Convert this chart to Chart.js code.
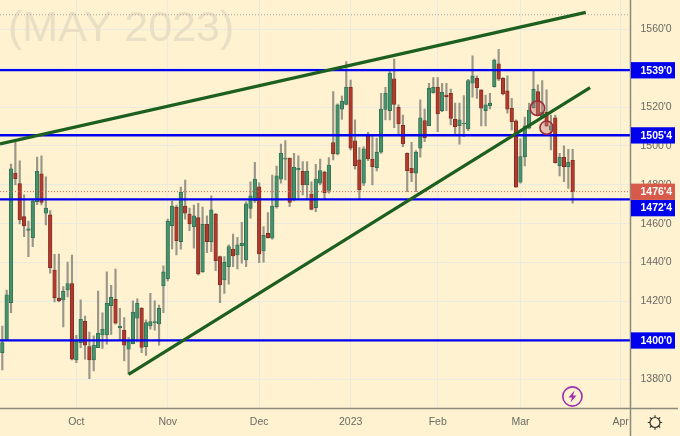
<!DOCTYPE html>
<html>
<head>
<meta charset="utf-8">
<script src="https://cdn.jsdelivr.net/npm/chart.js@4"></script>
<style>
    html, body { margin: 0; padding: 0; background: #fef2d0; }
    canvas { display: block; }
</style>
</head>
<body>
<canvas id="chart" width="680" height="436"></canvas>
<script>
let opens = [1393.7,1400.5,1419.4,1486.1,1480.6,1463.6,1456.5,1452.8,1471.3,1485.6,1465.4,1464.5,1436.2,1421.7,1420.8,1425.9,1429.2,1389.9,1398.8,1409.8,1396.8,1389.9,1396.2,1402.8,1402.8,1417.8,1421.1,1406.5,1405.2,1395.4,1398.3,1411.4,1416.5,1396.8,1407.4,1408.9,1408.4,1428,1431.7,1459,1468.5,1450.8,1469.1,1465,1458.5,1463.1,1435.3,1459.7,1450.8,1465,1443.1,1431.1,1437.9,1447,1443.9,1448.7,1441.4,1467.9,1471.9,1479,1446,1455,1452.5,1468.8,1482.9,1493.2,1493.7,1472.2,1487.7,1487,1479.9,1475.2,1468.3,1480.8,1486.5,1477.1,1501.7,1495.9,1518.9,1521.4,1530.2,1502.6,1492.8,1480.8,1505.1,1493.1,1488.8,1496.8,1518.8,1518.2,1534.5,1519.9,1510.6,1496.2,1488.5,1486,1498.8,1513,1510.4,1527.4,1530.2,1518.2,1526.2,1527.1,1513.7,1510.4,1511.3,1508.7,1532.3,1534.8,1528.8,1518.2,1520.7,1530.5,1542.2,1534.8,1528.3,1519.4,1512.9,1481.3,1494.5,1509.1,1519.7,1527.9,1514.8,1517.3,1508.2,1514.5,1489.9,1494.2,1489.3,1492.6];
let closes = [1398.8,1423.4,1488.2,1483.2,1461.9,1458.8,1457.3,1471.7,1487,1471,1468,1437.4,1422,1420.3,1425.3,1429.2,1390.3,1399.7,1410.8,1397.5,1389.9,1397.6,1403.6,1405.7,1419.1,1422.2,1408.8,1407.2,1397.5,1400.2,1414.6,1419.1,1396.4,1409.1,1409.6,1409.6,1416.5,1435.2,1461.3,1469.1,1451.3,1476.2,1465.4,1459.9,1464.1,1434.2,1459.7,1450.8,1467.1,1441,1428.5,1440.2,1448.2,1443.4,1449.1,1449.9,1470.2,1474.3,1483,1444.4,1454,1452.8,1469.1,1484.6,1496.2,1493.7,1471,1489,1488.5,1479.9,1487,1467.4,1483,1487.3,1476,1490.2,1495.9,1521.1,1523.1,1530.2,1498.8,1489.9,1477.4,1498.5,1493.3,1489.4,1496.8,1519,1527.1,1537.5,1521.4,1511.3,1501,1487.3,1486.2,1496.8,1514.5,1504.2,1529.7,1530.2,1516.5,1527.6,1525.4,1514.2,1509.9,1513.4,1511.7,1533.6,1536,1530,1519.4,1521.1,1522,1544.2,1534.3,1526.7,1518.9,1512.5,1478.8,1494.5,1510.3,1518.5,1529.2,1515.9,1517.3,1510.4,1510.3,1491.4,1494.2,1489.4,1491.6,1476.5];
let highs = [1407.4,1425.9,1490.7,1503.4,1492.3,1474.8,1461.4,1472.7,1494.3,1494.9,1484.1,1466.7,1444.3,1444.4,1427.6,1440.3,1443.8,1402.6,1420.8,1412.5,1404.3,1402.3,1425.3,1414.2,1435.2,1428.3,1436.6,1416.5,1411.7,1401.4,1420.3,1421.4,1416.8,1410.5,1424.2,1420.3,1418.1,1438.3,1462.4,1471.7,1469.6,1478.8,1482.5,1468,1469.6,1470.5,1468.5,1464,1474.4,1465.4,1443.4,1443.1,1449.1,1454.7,1453,1460.7,1471.3,1481.6,1491.6,1481,1458.5,1465.7,1485,1489.7,1501,1502.7,1493.8,1496.2,1494.9,1491.9,1491.9,1481.6,1490.6,1493.2,1487.1,1494,1527.9,1521.6,1525.7,1543.4,1533.9,1513.4,1499.1,1499.6,1507,1505.7,1504,1527.1,1530.2,1538.2,1544.7,1521.1,1515.9,1496.4,1501.9,1497.6,1523.7,1519,1532.2,1535.1,1535.1,1532.2,1532.2,1529.2,1522.1,1522.1,1525.9,1534.3,1546.3,1536,1528.8,1526.2,1527.1,1544.7,1549.7,1535.1,1536,1524.5,1513.4,1503.6,1514.8,1522.1,1538.7,1531.4,1533.6,1528.8,1515.9,1515.9,1496.2,1500,1498.3,1498.3];
let lows = [1384.8,1400.2,1414.2,1479.9,1459.9,1453.3,1443.1,1448.2,1469.8,1469.6,1459.4,1434.5,1419.8,1419.8,1406.9,1422.3,1389.9,1388.5,1396.2,1390.3,1380.3,1384.3,1396.2,1395.9,1398,1403.1,1408.3,1400.2,1389.4,1382.6,1398.1,1399.2,1393.7,1392.3,1405.7,1405.2,1397.5,1414.2,1430.6,1447,1443.9,1446.9,1462.3,1456.4,1447.4,1433.6,1435,1445.1,1445.6,1435.9,1419.4,1424.2,1428.9,1437.9,1436.7,1439.7,1437.9,1462.8,1470.9,1440,1440.2,1452.5,1452.1,1468,1480.8,1482.5,1468.8,1471.7,1473.1,1474.8,1472.7,1467.1,1466.2,1479.9,1472.5,1475.7,1492.8,1495.4,1513.7,1521.1,1497.9,1488,1472.6,1479.6,1492.4,1479.9,1487.1,1496.2,1513.4,1513.4,1509.4,1505.3,1499.6,1476.5,1481.6,1476.5,1494.2,1502.2,1510.3,1527.1,1507.4,1517.6,1518.2,1510.8,1505.7,1500.9,1504.8,1507.9,1525.1,1524.5,1510.3,1510.3,1519,1530.2,1533.6,1526.2,1516.8,1508.2,1478.8,1480.8,1489.7,1508.7,1519.4,1515.4,1514.4,1509.9,1497.9,1491.1,1484.6,1481.6,1478.2,1470.5];

let monthIndex = [17, 38, 59, 80, 100, 119, 142];
let monthLabels = ['Oct', 'Nov', 'Dec', '2023', 'Feb', 'Mar', 'Apr'];
let priceTicks = [1380, 1400, 1420, 1440, 1460, 1480, 1500, 1520, 1540, 1560];

let levels = [1539, 1505.5, 1472.5, 1400];
let levelLabels = ["1539'0", "1505'4", "1472'4", "1400'0"];
let lastPrice = 1476.5;
let lastLabel = "1476'4";
let highPrice = 1567.5;

let upperTrendX = [-0.53, 134];
let upperTrendY = [1501, 1568.7];
let lowerTrendX = [29, 135];
let lowerTrendY = [1382.5, 1530];
let circleX = [122.9, 125];
let circleY = [1519.4, 1509.4];

// visible range of the axes
let xMin = -0.53, xMax = 144.28;
let yMin = 1365.2, yMax = 1575.07;

let tickColor = '#6a6a64';
let tickFont = { family: 'Liberation Sans', size: 10.5 };

let barIndex = opens.map((_, i) => i);
let wickData = barIndex.map(i => ({ x: i, y: [lows[i], highs[i]] }));
let bodyData = barIndex.map(i => ({ x: i, y: [opens[i], closes[i]] }));
let isUp = barIndex.map(i => closes[i] >= opens[i]);

function noPadding(axis) {
    axis.paddingLeft = 0;
    axis.paddingRight = 0;
    axis.paddingTop = 0;
    axis.paddingBottom = 0;
}

function flatLine(price, color, width, dash, order) {
    return {
        type: 'line',
        data: [{ x: xMin, y: price }, { x: xMax, y: price }],
        borderColor: color,
        borderWidth: width,
        borderDash: dash,
        pointRadius: 0,
        order: order
    };
}

function trendLine(xs, ys) {
    return {
        type: 'line',
        data: xs.map((x, i) => ({ x: x, y: ys[i] })),
        borderColor: '#1c5f1e',
        borderWidth: 3.2,
        pointRadius: 0,
        order: 1
    };
}

// price tags, watermark and the two small icons
let decorations = {
    id: 'decorations',
    beforeDatasetsDraw(chart) {
        let ctx = chart.ctx;
        ctx.save();
        ctx.fillStyle = '#e9dfc5';
        ctx.font = '43px "Liberation Sans"';
        ctx.textBaseline = 'alphabetic';
        ctx.fillText('(MAY 2023)', 8, 41);
        ctx.restore();
    },
    afterDraw(chart) {
        let ctx = chart.ctx;
        let y = chart.scales.y;
        let area = chart.chartArea;
        ctx.save();
        ctx.strokeStyle = '#8a8a80';
        ctx.lineWidth = 1.5;
        ctx.beginPath();
        ctx.moveTo(area.right, 0);
        ctx.lineTo(area.right, 436);
        ctx.moveTo(0, area.bottom + 0.5);
        ctx.lineTo(678, area.bottom + 0.5);
        ctx.stroke();

        let tag = (price, text, color, shift) => {
            let py = y.getPixelForValue(price) + shift;
            ctx.fillStyle = color;
            ctx.fillRect(area.right + 0.5, py - 8, 44, 16.3);
            ctx.fillStyle = '#fff';
            ctx.font = 'bold 10.5px "Liberation Sans"';
            ctx.textAlign = 'left';
            ctx.textBaseline = 'middle';
            ctx.fillText(text, 640.5, py + 0.5);
        };
        tag(levels[0], levelLabels[0], '#0000f0', 0);
        tag(levels[1], levelLabels[1], '#0000f0', 0);
        tag(levels[3], levelLabels[3], '#0000f0', 0);
        // the last two tags would overlap, so the lower one moves down
        tag(lastPrice, lastLabel, '#d85a4b', 0);
        tag(levels[2], levelLabels[2], '#0000f0', 8.6);

        // flash icon
        ctx.strokeStyle = '#9c2fb0';
        ctx.lineWidth = 1.6;
        ctx.beginPath();
        ctx.arc(572.4, 396.5, 9.6, 0, Math.PI * 2);
        ctx.stroke();
        ctx.fillStyle = '#9c2fb0';
        ctx.beginPath();
        ctx.moveTo(574.5, 390.5);
        ctx.lineTo(568.5, 397.5);
        ctx.lineTo(572, 397.5);
        ctx.lineTo(570.5, 402.5);
        ctx.lineTo(576.5, 395.5);
        ctx.lineTo(573, 395.5);
        ctx.closePath();
        ctx.fill();

        // settings icon
        ctx.strokeStyle = '#33332f';
        ctx.lineWidth = 1.2;
        ctx.beginPath();
        ctx.arc(655, 422.5, 5, 0, Math.PI * 2);
        for (let k = 0; k < 8; k++) {
            let a = k * Math.PI / 4;
            ctx.moveTo(655 + Math.cos(a) * 5, 422.5 + Math.sin(a) * 5);
            ctx.lineTo(655 + Math.cos(a) * 7.2, 422.5 + Math.sin(a) * 7.2);
        }
        ctx.stroke();
        ctx.restore();
    }
};

let chart = new Chart(document.getElementById('chart'), {
    type: 'bar',
    plugins: [decorations],
    data: {
        datasets: [
            flatLine(highPrice, '#a8a8a0', 1, [1, 2], 3),
            flatLine(lastPrice, '#e0604f', 1, [1, 2], 3),
            {
                label: 'wick',
                data: wickData,
                backgroundColor: 'rgba(115,115,108,0.72)',
                barThickness: 1.5,
                grouped: false,
                order: 5
            },
            {
                label: 'body',
                data: bodyData,
                backgroundColor: isUp.map(up => up ? '#46906c' : '#b03a2c'),
                borderColor: isUp.map(up => up ? '#2f6d50' : '#7e2a22'),
                borderWidth: 0.8,
                borderSkipped: false,
                barThickness: 3.6,
                grouped: false,
                order: 4
            },
            ...levels.map(price => flatLine(price, '#0000f0', 2.3, [], 2)),
            trendLine(upperTrendX, upperTrendY),
            trendLine(lowerTrendX, lowerTrendY),
            {
                type: 'scatter',
                data: circleX.map((x, i) => ({ x: x, y: circleY[i] })),
                pointRadius: [7.2, 6.6],
                pointBackgroundColor: 'rgba(195,125,125,0.42)',
                pointBorderColor: '#9c2c3a',
                pointBorderWidth: 1.6,
                order: 0
            }
        ]
    },
    options: {
        responsive: false,
        animation: false,
        events: [],
        layout: { autoPadding: false, padding: 0 },
        plugins: {
            legend: { display: false },
            title: { display: false },
            tooltip: { enabled: false }
        },
        scales: {
            x: {
                type: 'linear',
                min: xMin,
                max: xMax,
                offset: false,
                afterBuildTicks: axis => { axis.ticks = monthIndex.map(v => ({ value: v })); },
                afterFit: axis => { axis.height = 28; noPadding(axis); },
                grid: { offset: false, color: '#ebe9e0', lineWidth: 1, drawTicks: false },
                border: { display: false },
                ticks: {
                    autoSkip: false,
                    maxRotation: 0,
                    padding: 8,
                    color: tickColor,
                    font: tickFont,
                    callback: value => monthLabels[monthIndex.indexOf(value)]
                }
            },
            y: {
                position: 'right',
                min: yMin,
                max: yMax,
                afterBuildTicks: axis => { axis.ticks = priceTicks.map(v => ({ value: v })); },
                afterFit: axis => { axis.width = 49.5; noPadding(axis); },
                grid: { color: '#ebe9e0', lineWidth: 1, drawTicks: false },
                border: { display: false },
                ticks: {
                    crossAlign: 'near',
                    padding: 10,
                    color: tickColor,
                    font: tickFont,
                    callback: value => `${value}'0`
                }
            }
        }
    }
});
</script>
</body>
</html>
